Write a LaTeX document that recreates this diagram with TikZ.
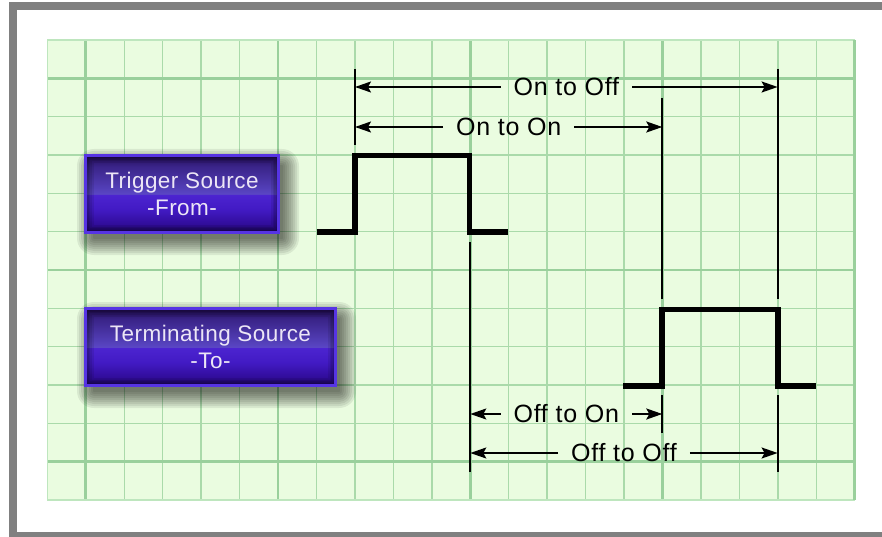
\documentclass[tikz,border=0pt]{standalone}
\usepackage{fontspec}
\setmainfont{Liberation Sans}
\usetikzlibrary{arrows.meta,calc}
\definecolor{gridfill}{RGB}{234,252,224}
\definecolor{gridminor}{RGB}{170,218,170}
\definecolor{gridmajor}{RGB}{154,208,156}
\definecolor{gridedge}{RGB}{190,230,190}
\definecolor{framegray}{RGB}{128,128,128}
\definecolor{btnborder}{RGB}{86,52,228}
\definecolor{btntext}{RGB}{236,230,246}
\definecolor{b0}{RGB}{32,6,104}
\definecolor{b1}{RGB}{48,12,152}
\definecolor{b2}{RGB}{66,26,196}
\definecolor{b3}{RGB}{76,36,208}
\definecolor{b4}{RGB}{90,70,196}
\definecolor{b5}{RGB}{84,64,186}
\definecolor{b6}{RGB}{58,36,136}
\definecolor{b7}{RGB}{36,12,88}
\pgfdeclareverticalshading{btnshade}{100bp}{color(0bp)=(b0); color(25bp)=(b0); color(30bp)=(b1); color(40bp)=(b2); color(49.5bp)=(b3); color(50bp)=(b4); color(53bp)=(b5); color(68bp)=(b6); color(75bp)=(b7); color(100bp)=(b7)}
\pgfdeclarelayer{back}
\pgfdeclarelayer{shadowlayer}
\pgfsetlayers{back,shadowlayer,main}
\begin{document}
\begin{tikzpicture}[x=1pt,y=-1pt,
  minorline/.style={draw=gridminor,line width=1.4pt},
  majorline/.style={draw=gridmajor,line width=2.6pt},
  edgeline/.style={draw=gridedge,line width=1.6pt},
  btn/.style={draw=btnborder,line width=3pt,shading=btnshade,inner sep=0pt,
    align=center,text=btntext,font=\fontsize{22.5}{27}\selectfont\addfontfeature{LetterSpace=2},
    path picture={\foreach \w in {3,6,9,12,16}
      {\draw[black,opacity=0.09,line width=\w pt]
        (path picture bounding box.south west) rectangle (path picture bounding box.north east);}}},
  lab/.style={font=\fontsize{25}{30}\selectfont\addfontfeature{LetterSpace=3},inner xsep=13pt,inner ysep=2pt,outer sep=0pt},
  dimarrow/.style={draw=black,line width=1.8pt,-{Stealth[length=16pt,width=11pt,inset=3pt]}},
  extline/.style={draw=black,line width=1.8pt},
  pulse/.style={draw=black,line width=5.5pt,line join=miter,line cap=butt}]
\clip (0,0) rectangle (882,537);
\begin{pgfonlayer}{back}
\fill[white] (0,0) rectangle (882,537);
\draw[framegray,line width=7.7pt] (12.85,5.7) rectangle (900,535.5);
\fill[gridfill] (47.3,40) rectangle (854.75,500);
\foreach \i in {1,...,20} \draw[minorline] ({47.3+\i*38.45},40) -- ({47.3+\i*38.45},500);
\foreach \j in {1,...,11} \draw[minorline] (47.3,{40+\j*38.333}) -- (854.75,{40+\j*38.333});
\foreach \i in {1,6,11,16} \draw[majorline] ({47.3+\i*38.45},40) -- ({47.3+\i*38.45},500);
\foreach \j in {1,6,11} \draw[majorline] (47.3,{40+\j*38.333}) -- (854.75,{40+\j*38.333});
\draw[edgeline] (47.3,500) -- (47.3,40) -- (854.75,40);
\draw[edgeline] (47.3,500) -- (854.75,500);
\draw[majorline] (854.75,40) -- (854.75,500);
\end{pgfonlayer}

% buttons
\node[btn,minimum width=193pt,minimum height=77pt] (trig) at (182,194) {Trigger Source\\-From-};
\node[btn,minimum width=250pt,minimum height=77pt] (term) at (210.5,347) {Terminating Source\\-To-};

\begin{pgfonlayer}{shadowlayer}
\foreach \n in {trig,term}{
  \foreach \s in {-3,-1,...,13}{
    \fill[black,opacity=0.075,rounded corners={\s+4}]
      ([xshift={6-\s},yshift={-8+\s}]\n.north west) rectangle ([xshift={6+\s},yshift={-8-\s}]\n.south east);
  }
}
\end{pgfonlayer}

% pulses
\draw[pulse] (316.7,232) -- (355,232) -- (355,155.5) -- (469.5,155.5) -- (469.5,232) -- (508.3,232);
\draw[pulse] (623.3,386) -- (662,386) -- (662,309.5) -- (778,309.5) -- (778,386) -- (815.7,386);

% extension lines
\coordinate (e1t) at (355,69);   \coordinate (e1b) at (355,145);
\coordinate (e2t) at (662.3,98); \coordinate (e2b) at (662.3,299);
\coordinate (e3t) at (777.6,69); \coordinate (e3b) at (777.6,299);
\coordinate (e4t) at (777.6,395);\coordinate (e4b) at (777.6,472);
\coordinate (e5t) at (470.3,242);\coordinate (e5b) at (470.3,472);
\coordinate (e6t) at (662.3,395);\coordinate (e6b) at (662.3,433);
\foreach \a/\b in {e1t/e1b,e2t/e2b,e3t/e3b,e4t/e4b,e5t/e5b,e6t/e6b} \draw[extline] (\a) -- (\b);

% dimension arrows
\coordinate (a1l) at (355,87);   \coordinate (a1r) at (777.6,87);
\coordinate (a2l) at (355,127);  \coordinate (a2r) at (662.3,127);
\coordinate (a3l) at (470.3,414);\coordinate (a3r) at (662.3,414);
\coordinate (a4l) at (470.3,453);\coordinate (a4r) at (777.6,453);
\node[lab] (l1) at ($ (a1l)!0.5!(a1r) $) {On to Off};
\node[lab] (l2) at ($ (a2l)!0.5!(a2r) $) {On to On};
\node[lab] (l3) at ($ (a3l)!0.5!(a3r) $) {Off to On};
\node[lab] (l4) at ($ (a4l)!0.5!(a4r) $) {Off to Off};
\foreach \n/\l/\r in {l1/a1l/a1r,l2/a2l/a2r,l3/a3l/a3r,l4/a4l/a4r}{
  \draw[dimarrow] (\n.west) -- (\l);
  \draw[dimarrow] (\n.east) -- (\r);
}
\end{tikzpicture}
\end{document}
